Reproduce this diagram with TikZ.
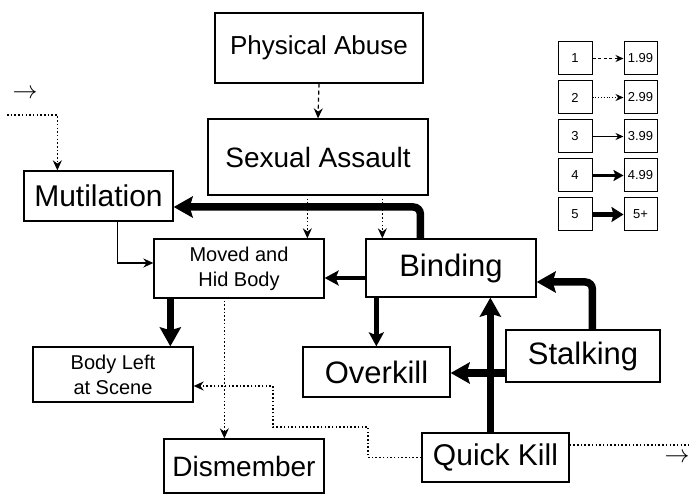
\documentclass[tikz,border=0pt]{standalone}
\usepackage{fontspec}
\setmainfont{Liberation Sans}
\usetikzlibrary{arrows.meta,calc}

\begin{document}
\begin{tikzpicture}[x=1pt,y=-1pt,
  box/.style={draw, line width=1.3pt, inner sep=0pt, align=center},
  fs/.style={font=\fontsize{#1}{#1}\selectfont},
  twoline/.style={font=\fontsize{20}{25}\selectfont},
  legbox/.style={draw, line width=1pt, inner sep=0pt, minimum width=34pt, minimum height=33pt, font=\fontsize{13}{13}\selectfont},
  wA/.style={line width=1.2pt, -{Stealth[length=10pt,width=9pt]}, dash pattern=on 4pt off 3pt},
  wB/.style={line width=1.3pt, -{Stealth[length=10pt,width=9pt]}, dash pattern=on 1.5pt off 2.2pt},
  wC/.style={line width=1.3pt, -{Stealth[length=10pt,width=9pt]}},
  wD/.style={line width=4.5pt, -{Stealth[length=14pt,width=15pt,inset=3pt]}},
  wE/.style={line width=7.5pt, -{Stealth[length=19pt,width=21pt,inset=3pt]}, rounded corners=7pt},
  dotline/.style={line width=1.3pt, dash pattern=on 1.5pt off 2.2pt}
]
\useasboundingbox (0,0) rectangle (689,494);
\fill[white] (0,0) rectangle (689,494);

% main boxes
\node[box, fs=26, minimum width=208pt, minimum height=70pt] (pa) at (319,48) {Physical Abuse};
\node[box, fs=28, minimum width=220pt, minimum height=76pt] (sa) at (318,157) {Sexual Assault};
\node[box, fs=30, minimum width=149pt, minimum height=50pt] (mut) at (98.5,196) {Mutilation};
\node[box, twoline, minimum width=170pt, minimum height=59pt] (mov) at (239,268.5) {Moved and\\Hid Body};
\node[box, fs=31, minimum width=170pt, minimum height=58pt] (bind) at (451,268) {Binding};
\node[box, twoline, minimum width=160pt, minimum height=55pt] (body) at (113,374.5) {Body Left\\at Scene};
\node[box, fs=28, minimum width=160pt, minimum height=54pt] (dis) at (244,466) {Dismember};
\node[box, fs=31, minimum width=147pt, minimum height=50pt] (over) at (376.5,372) {Overkill};
\node[box, fs=31, minimum width=154pt, minimum height=52pt] (stalk) at (583,356) {Stalking};
\node[box, fs=30, minimum width=147pt, minimum height=49pt] (qk) at (495.5,457.5) {Quick Kill};

% off-page arrows
\node[font=\fontsize{26}{26}\selectfont, inner sep=0pt] (arrL) at (25,94) {$\rightarrow$};
\node[font=\fontsize{26}{26}\selectfont, inner sep=0pt] (arrR) at (677,458) {$\rightarrow$};
\coordinate (inL) at (7,115);
\coordinate (outR) at (689,445);

% connectors
\draw[wA] (pa.south) -- (sa.north);
\draw[wB] (inL) -| ($(mut.north west)+(34,0)$);
\draw[wE] ($(bind.north west)+(55,0)$) |- ($(mut.east)+(0,11)$);
\coordinate (sa1) at ($(sa.south west)+(100,3)$);
\coordinate (sa2) at ($(sa.south west)+(175,3)$);
\draw[wB] (sa1) -- (sa1 |- mov.north);
\draw[wB] (sa2) -- (sa2 |- bind.north);
\draw[wC] ($(mut.south west)+(94,0)$) |- ($(mov.west)+(0,-5.5)$);
\coordinate (b1) at ($(bind.west)+(0,10)$);
\draw[wD] (b1) -- (b1 -| mov.east);
\coordinate (m1) at ($(mov.south west)+(17,0)$);
\draw[wE] (m1) -- (m1 |- body.north);
\coordinate (m2) at ($(mov.south west)+(71,2)$);
\draw[wB] (m2) -- (m2 |- dis.north);
\draw[wB] (qk.west) -- (368,457.5) |- (273,427) |- ($(body.east)+(0,11.5)$);
\draw[dotline] ($(qk.east)+(0,-12.5)$) -- (outR);
\coordinate (b2) at ($(bind.south west)+(11,0)$);
\draw[wD] (b2) -- (b2 |- over.north);
\coordinate (s1) at ($(stalk.west)+(0,17)$);
\draw[wE] (s1) -- (s1 -| over.east);
\draw[wE] ($(stalk.north west)+(87,0)$) |- ($(bind.east)+(0,14)$);
\coordinate (q1) at ($(qk.north west)+(69,0)$);
\draw[wE] (q1) -- (q1 |- bind.south);

% legend
\foreach \i/\lab/\y in {1/1.99/58.5, 2/2.99/97.5, 3/3.99/136.5, 4/4.99/175.5, 5/5+/214.5}{
  \node[legbox] (L\i) at (575,\y) {\i};
  \node[legbox, minimum width=33pt] (R\i) at (640.5,\y) {\lab};
}
\draw[line width=1pt, dash pattern=on 3pt off 2.5pt, -{Stealth[length=8pt,width=7pt]}] (L1.east) -- (R1.west);
\draw[line width=1pt, dash pattern=on 1pt off 1.8pt, -{Stealth[length=8pt,width=7pt]}] (L2.east) -- (R2.west);
\draw[line width=1pt, -{Stealth[length=8pt,width=7pt]}] (L3.east) -- (R3.west);
\draw[line width=3pt, -{Stealth[length=10pt,width=11pt,inset=2pt]}] (L4.east) -- (R4.west);
\draw[line width=5.5pt, -{Stealth[length=12pt,width=15pt,inset=2pt]}] (L5.east) -- (R5.west);
\end{tikzpicture}
\end{document}
